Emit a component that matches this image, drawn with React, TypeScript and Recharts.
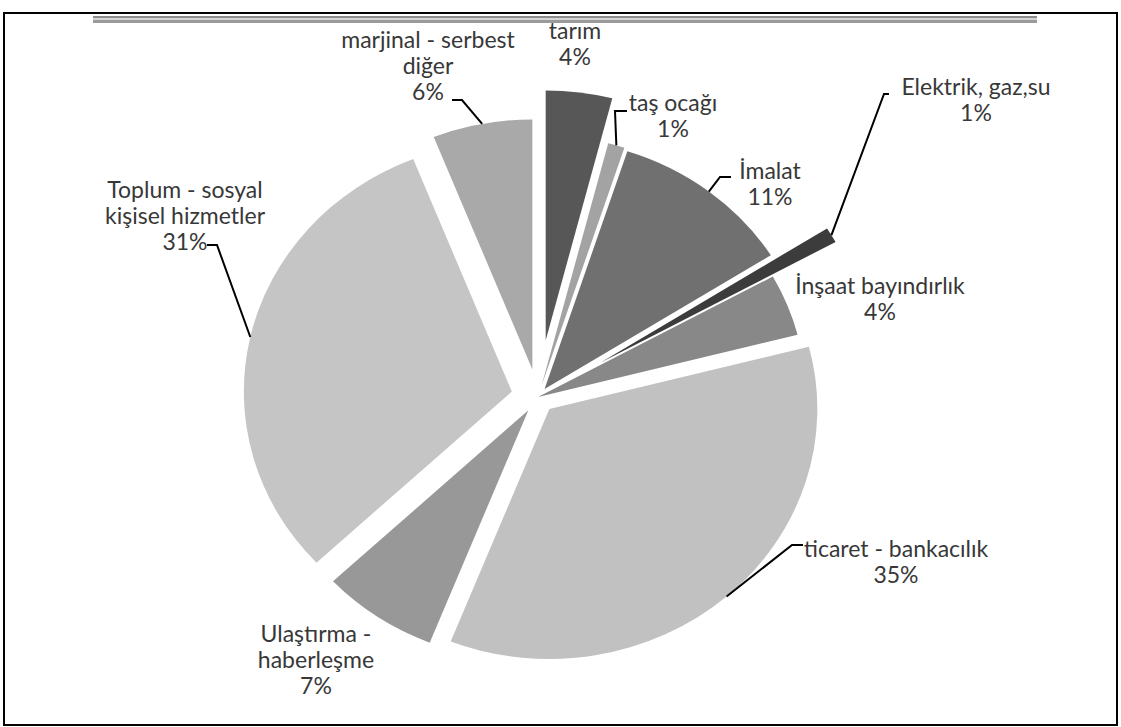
import { Pie, PieChart, Sector } from "recharts";

// sectors, clockwise from 12 o'clock
const sectors = [
  "tarım",
  "taş ocağı",
  "İmalat",
  "Elektrik, gaz,su",
  "İnşaat bayındırlık",
  "ticaret - bankacılık",
  "Ulaştırma - haberleşme",
  "Toplum - sosyal kişisel hizmetler",
  "marjinal - serbest diğer",
];
const shares = [4, 1, 11, 1, 4, 35, 7, 31, 6];
const labelLines = [
  ["tarım"],
  ["taş ocağı"],
  ["İmalat"],
  ["Elektrik, gaz,su"],
  ["İnşaat bayındırlık"],
  ["ticaret - bankacılık"],
  ["Ulaştırma -", "haberleşme"],
  ["Toplum - sosyal", "kişisel hizmetler"],
  ["marjinal - serbest", "diğer"],
];

const data = shares.map((v, i) => ({ name: sectors[i], value: v }));

// styling
const fills = ["#575757", "#a3a3a3", "#707070", "#3c3c3c", "#888888", "#c1c1c1", "#989898", "#c5c5c5", "#a9a9a9"];
const explode = [57, 12, 10, 68, 0, 16, 16, 25, 28];
const labelPos = [
  { x: 575, y: 30 },
  { x: 673, y: 102 },
  { x: 770, y: 170 },
  { x: 976, y: 86 },
  { x: 880, y: 285 },
  { x: 896, y: 548 },
  { x: 316, y: 633 },
  { x: 185, y: 189 },
  { x: 428, y: 39 },
];
const leaders: ({ elbow: number[]; end: number[] } | null)[] = [
  null,
  { elbow: [615, 111], end: [627, 111] },
  { elbow: [720, 177], end: [731, 177] },
  { elbow: [884, 94], end: [889, 94] },
  null,
  { elbow: [792, 545], end: [803, 545] },
  null,
  { elbow: [217, 245], end: [207, 245] },
  { elbow: [462, 100], end: [452, 100] },
];

const W = 1121;
const H = 727;
const CX = 533;
const CY = 392;
const R = 250;
const SX = 1.072;
const RAD = Math.PI / 180;
const LINE_H = 26;

const stretch = (x: number, cx: number) => cx + (x - cx) * SX;

const renderSlice = (props: any) => {
  const { cx, cy, midAngle, startAngle, endAngle, outerRadius, index } = props;
  const d = explode[index];
  const ox = cx + d * Math.cos(-midAngle * RAD);
  const oy = cy + d * Math.sin(-midAngle * RAD);
  return (
    <g transform={`translate(${cx} 0) scale(${SX} 1) translate(${-cx} 0)`}>
      <Sector
        cx={ox}
        cy={oy}
        innerRadius={0}
        outerRadius={outerRadius}
        startAngle={startAngle}
        endAngle={endAngle}
        fill={fills[index]}
        stroke="none"
      />
    </g>
  );
};

const renderLabel = (props: any) => {
  const { cx, cy, midAngle, outerRadius, index, value } = props;
  const d = explode[index] + outerRadius;
  const ax = stretch(cx + d * Math.cos(-midAngle * RAD), cx);
  const ay = cy + d * Math.sin(-midAngle * RAD);
  const pos = labelPos[index];
  const lines = [...labelLines[index], `${value}%`];
  const lead = leaders[index];
  return (
    <g>
      {lead && (
        <polyline
          points={`${ax},${ay} ${lead.elbow[0]},${lead.elbow[1]} ${lead.end[0]},${lead.end[1]}`}
          fill="none"
          stroke="#000"
          strokeWidth={2}
        />
      )}
      <text
        textAnchor="middle"
        fontFamily="Lato, sans-serif"
        fontSize={23}
        fill="#383838"
      >
        {lines.map((t, i) => (
          <tspan key={i} x={pos.x} y={pos.y + i * LINE_H} dominantBaseline="central">
            {t}
          </tspan>
        ))}
      </text>
    </g>
  );
};

export default function App() {
  return (
    <div style={{ position: "absolute", left: 0, top: 0, width: W, height: H, background: "#fff" }}>
      <div
        style={{
          position: "absolute",
          left: 3,
          top: 12,
          width: W - 10,
          height: H - 17,
          border: "2px solid #000",
        }}
      />
      <div
        style={{
          position: "absolute",
          left: 93,
          top: 16,
          width: 944,
          height: 7,
          background: "linear-gradient(#8c8c8c 0 2px, #d4d4d4 2px 4px, #9a9a9a 4px 7px)",
        }}
      />
      <div style={{ position: "absolute", left: 0, top: 0 }}>
        <PieChart width={W} height={H}>
          <Pie
            data={data}
            dataKey="value"
            nameKey="name"
            cx={CX}
            cy={CY}
            outerRadius={R}
            startAngle={90}
            endAngle={-270}
            fill="none"
            stroke="none"
            label={renderSlice}
            labelLine={false}
            isAnimationActive={false}
          />
          <Pie
            data={data}
            dataKey="value"
            nameKey="name"
            cx={CX}
            cy={CY}
            outerRadius={R}
            startAngle={90}
            endAngle={-270}
            fill="none"
            stroke="none"
            label={renderLabel}
            labelLine={false}
            isAnimationActive={false}
          />
        </PieChart>
      </div>
    </div>
  );
}
